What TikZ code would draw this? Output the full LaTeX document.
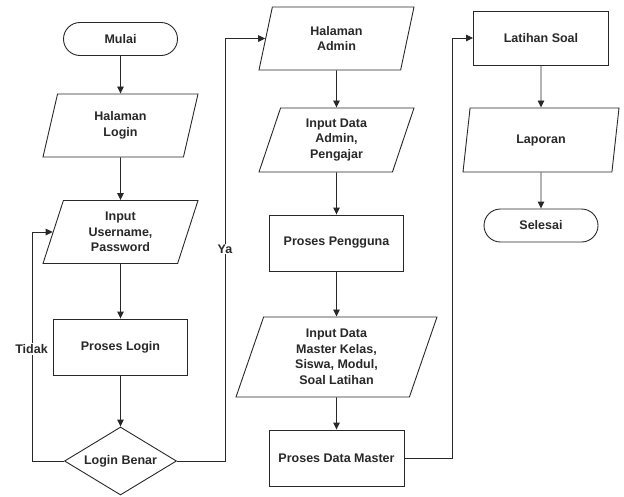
\documentclass[tikz,border=0pt]{standalone}
\usepackage{fontspec}
\setmainfont{Liberation Sans}
\usetikzlibrary{arrows.meta,shapes.geometric}
\definecolor{flowgray}{RGB}{40,40,40}
\tikzset{
  flow base/.style={
    draw=flowgray,
    line width=0.9pt,
    text=flowgray,
    font=\fontsize{12.5}{15.5}\selectfont\bfseries,
    align=center,
    inner sep=2pt
  },
  flow term/.style={
    flow base,
    rectangle,
    rounded corners=16.5pt,
    minimum width=114pt,
    minimum height=33pt
  },
  flow box/.style={
    flow base,
    rectangle,
    minimum width=134pt,
    minimum height=56pt
  },
  flow io/.style={
    flow base,
    trapezium,
    trapezium left angle=65,
    trapezium right angle=115,
    trapezium stretches body,
    minimum width=155pt,
    minimum height=63pt
  },
  flow decision/.style={
    flow base,
    diamond,
    shape aspect=1.65,
    inner sep=0pt,
    minimum width=112pt,
    minimum height=68pt
  },
  flow label/.style={
    fill=white,
    text=flowgray,
    font=\fontsize{12.5}{15.5}\selectfont\bfseries,
    inner sep=1pt
  },
  flow edge/.style={-{Triangle[length=7pt,width=6.5pt]},line width=0.9pt,draw=flowgray}
}

\begin{document}
\begin{tikzpicture}[x=1pt,y=-1pt]
  \useasboundingbox (0,0) rectangle (624,496);

  \node[flow term] (mulai) at (120.5,39) {Mulai};
  \node[flow io] (hlogin) at (120.5,125.5) {Halaman\\Login};
  \node[flow io] (username) at (120.5,232) {Input\\Username,\\Password};
  \node[flow box] (plogin) at (120.5,347) {Proses Login};
  \node[flow decision] (cek) at (120.5,461) {Login Benar};

  \node[flow io] (hadmin) at (336.5,38.5) {Halaman\\Admin};
  \node[flow io,minimum height=64pt] (inadmin) at (336.5,140) {Input Data\\Admin,\\Pengajar};
  \node[flow box] (ppengguna) at (336.5,243) {Proses Pengguna};
  \node[flow io,minimum width=201pt,minimum height=80pt] (inmaster) at (336.5,357)
    {Input Data\\Master Kelas,\\Siswa, Modul,\\Soal Latihan};
  \node[flow box,minimum width=135pt] (pmaster) at (336.5,458) {Proses Data Master};

  \node[flow box,minimum width=135pt,minimum height=54pt] (latihan) at (541,38) {Latihan Soal};
  \node[flow io,minimum width=156pt,minimum height=64pt] (laporan) at (541,140) {Laporan};
  \node[flow term] (selesai) at (541,225.5) {Selesai};

  \coordinate (tidak bend) at (32,0);
  \coordinate (ya bend) at (225,0);
  \coordinate (soal bend) at (452,0);

  \draw[flow edge] (mulai.south) -- (hlogin.north);
  \draw[flow edge] (hlogin.south) -- (username.north);
  \draw[flow edge] (username.south) -- (plogin.north);
  \draw[flow edge] (plogin.south) -- (cek.north);
  \draw[flow edge] (cek.west) -- (cek.west -| tidak bend) |- (username.west);
  \draw[flow edge] (cek.east) -- (cek.east -| ya bend) |- (hadmin.west);

  \draw[flow edge] (hadmin.south) -- (inadmin.north);
  \draw[flow edge] (inadmin.south) -- (ppengguna.north);
  \draw[flow edge] (ppengguna.south) -- (inmaster.north);
  \draw[flow edge] (inmaster.south) -- (pmaster.north);
  \draw[flow edge] (pmaster.east) -- (pmaster.east -| soal bend) |- (latihan.west);

  \draw[flow edge] (latihan.south) -- (laporan.north);
  \draw[flow edge] (laporan.south) -- (selesai.north);

  \node[flow label] (tidak) at (31.5,349) {Tidak};
  \node[flow label] (ya) at (225,249) {Ya};
\end{tikzpicture}
\end{document}
